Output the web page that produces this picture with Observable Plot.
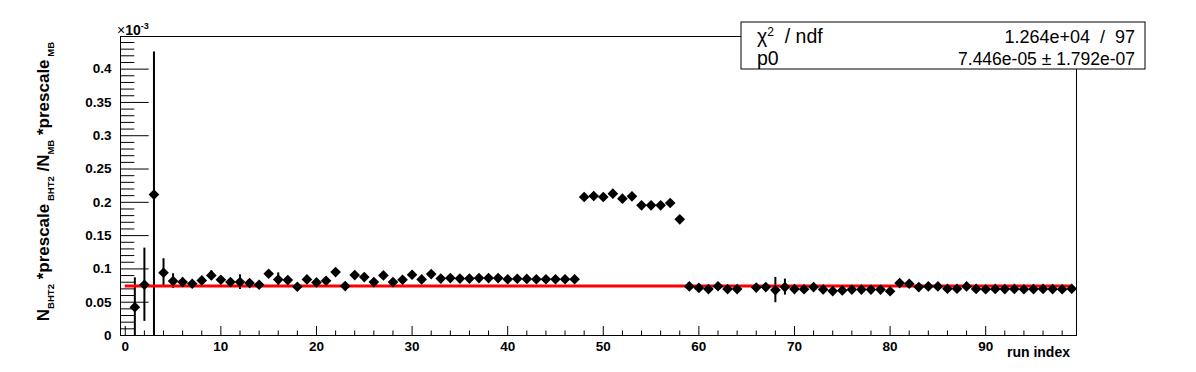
<!DOCTYPE html>
<html><head><meta charset="utf-8">
<script src="https://cdn.jsdelivr.net/npm/d3@7"></script>
<script src="https://cdn.jsdelivr.net/npm/@observablehq/plot@0.6"></script>
<style>body{margin:0;background:#fff} svg{display:block}</style>
</head><body><div id="chart"></div>
<script>
// run index (65 is empty)
const runIndex = [1,2,3,4,5,6,7,8,9,10,11,12,13,14,15,16,17,18,19,20,21,22,23,24,25,26,27,28,29,30,
  31,32,33,34,35,36,37,38,39,40,41,42,43,44,45,46,47,48,49,50,51,52,53,54,55,56,57,58,59,60,
  61,62,63,64,66,67,68,69,70,71,72,73,74,75,76,77,78,79,80,81,82,83,84,85,86,87,88,89,90,
  91,92,93,94,95,96,97,98,99];
// N_BHT2*prescale_BHT2 / N_MB*prescale_MB  (x 10^-3)
const ratio = [0.0426,0.0762,0.2116,0.0943,0.0817,0.0802,0.0777,0.0827,0.0902,0.0837,
  0.0802,0.0802,0.0787,0.0762,0.0927,0.0840,0.0832,0.0732,0.0842,0.0797,
  0.0822,0.0952,0.0742,0.0907,0.0877,0.0802,0.0902,0.0802,0.0837,0.0912,
  0.0842,0.0922,0.0855,0.0862,0.0855,0.0855,0.0862,0.0862,0.0862,0.0845,
  0.0852,0.0850,0.0845,0.0845,0.0845,0.0845,0.0845,0.2080,0.2095,0.2080,
  0.2130,0.2055,0.2090,0.1955,0.1955,0.1955,0.1990,0.1744,0.0737,0.0715,
  0.0697,0.0740,0.0697,0.0697,0.0720,0.0727,0.0682,0.0727,0.0697,0.0695,
  0.0727,0.0692,0.0667,0.0677,0.0690,0.0690,0.0690,0.0690,0.0665,0.0787,
  0.0777,0.0727,0.0737,0.0737,0.0702,0.0702,0.0737,0.0700,0.0695,0.0700,
  0.0697,0.0700,0.0695,0.0697,0.0700,0.0697,0.0695,0.0702];
const ratioErr = [0.0440,0.0550,0.2140,0.0210,0.0110,0.0060,0.0040,0.0040,0.0070,0.0040,
  0.0040,0.0110,0.0040,0.0040,0.0040,0.0100,0.0040,0.0040,0.0040,0.0040,
  0.0040,0.0040,0.0040,0.0040,0.0040,0.0040,0.0040,0.0040,0.0040,0.0040,
  0.0040,0.0040,0.0030,0.0030,0.0030,0.0030,0.0030,0.0030,0.0030,0.0030,
  0.0030,0.0030,0.0030,0.0030,0.0030,0.0030,0.0030,0.0040,0.0040,0.0040,
  0.0040,0.0040,0.0040,0.0040,0.0040,0.0040,0.0040,0.0040,0.0030,0.0030,
  0.0030,0.0030,0.0030,0.0030,0.0030,0.0030,0.0190,0.0120,0.0030,0.0030,
  0.0030,0.0030,0.0030,0.0030,0.0030,0.0030,0.0030,0.0030,0.0030,0.0030,
  0.0030,0.0030,0.0030,0.0030,0.0030,0.0030,0.0030,0.0030,0.0030,0.0030,
  0.0030,0.0030,0.0030,0.0030,0.0030,0.0030,0.0030,0.0030];
const xDomain = [-0.5, 99.5];
const yDomain = [0, 0.449];
const xMajorTicks = [0,10,20,30,40,50,60,70,80,90];
const xMinorTicks = [2,4,6,8,12,14,16,18,22,24,26,28,32,34,36,38,42,44,46,48,52,54,56,58,
  62,64,66,68,72,74,76,78,82,84,86,88,92,94,96,98];
const yMajorTicks = [0,0.05,0.1,0.15,0.2,0.25,0.3,0.35,0.4];
const yMinorTicks = [0.01,0.02,0.03,0.04,0.06,0.07,0.08,0.09,0.11,0.12,0.13,0.14,0.16,0.17,0.18,0.19,
  0.21,0.22,0.23,0.24,0.26,0.27,0.28,0.29,0.31,0.32,0.33,0.34,0.36,0.37,0.38,0.39,0.41,0.42,0.43,0.44];
const fitValue = 0.07446;
const fitRange = [0, 99];
const statsLabels = ["ndf", "p0"];
const statsValues = ["1.264e+04  /  97", "7.446e-05 \u00b1 1.792e-07"];

const points = runIndex.map((r, i) => ({run: r, v: ratio[i], e: ratioErr[i]}));
const xSpan = xDomain[1] - xDomain[0], ySpan = yDomain[1] - yDomain[0];
const F = "'Liberation Sans', Arial, Helvetica, sans-serif";

const chart = Plot.plot({
  width: 1196, height: 372,
  marginLeft: 120, marginRight: 120, marginTop: 36, marginBottom: 37,
  style: {fontFamily: F, background: "#fff"},
  x: {domain: xDomain},
  y: {domain: yDomain},
  marks: [
    // ticks (inside frame, ROOT style)
    Plot.ruleY(yMajorTicks, {y: d => d, x1: xDomain[0], x2: xDomain[0] + 0.03 * xSpan, stroke: "black"}),
    Plot.ruleY(yMinorTicks, {y: d => d, x1: xDomain[0], x2: xDomain[0] + 0.015 * xSpan, stroke: "black"}),
    Plot.ruleX(xMajorTicks, {x: d => d, y1: yDomain[0], y2: yDomain[0] + 0.03 * ySpan, stroke: "black"}),
    Plot.ruleX(xMinorTicks, {x: d => d, y1: yDomain[0], y2: yDomain[0] + 0.015 * ySpan, stroke: "black"}),
    Plot.axisY({ticks: yMajorTicks, tickSize: 0, tickPadding: 9, tickFormat: d => String(+d.toFixed(2)), label: null, fill: "black"}),
    Plot.axisX({ticks: xMajorTicks, tickSize: 0, tickPadding: 6, tickFormat: d => String(d), label: null, fill: "black"}),
    // error bars
    Plot.ruleX(points, {x: "run", y1: d => d.v - d.e, y2: d => d.v + d.e, stroke: "black", strokeWidth: 2, clip: true}),
    // fit
    Plot.ruleY([fitValue], {x1: fitRange[0], x2: fitRange[1], stroke: "#ff0000", strokeWidth: 3}),
    // markers
    Plot.dot(points, {x: "run", y: "v", symbol: "diamond2", r: 4.8, fill: "black", stroke: "none"}),
    Plot.frame({stroke: "black"})
  ]
});
document.getElementById("chart").appendChild(chart);

const svg = d3.select(chart);
// tick label fonts (ROOT bold Helvetica): only axis texts exist at this point
svg.selectAll("text").style("font-size", "13.5px").style("font-weight", "bold").style("font-family", F);

// x10^-3 exponent label
const ex = svg.append("text").attr("x", 117).attr("y", 35).attr("text-anchor", "start")
  .attr("font-family", F).attr("font-size", 14).attr("font-weight", "bold").attr("fill", "black");
ex.append("tspan").attr("font-weight", "normal").text("\u00d7");
ex.append("tspan").text("10");
ex.append("tspan").attr("font-size", 9).attr("dy", -6).text("-3");

// x title
svg.append("text").attr("x", 1070).attr("y", 357).attr("text-anchor", "end")
  .attr("font-family", F).attr("font-size", 14).attr("font-weight", "bold").attr("fill", "black").text("run index");

// y title
const yt = svg.append("text").attr("transform", "translate(49,42) rotate(-90)").attr("text-anchor", "end")
  .attr("font-family", F).attr("font-size", 17).attr("font-weight", "bold").attr("fill", "black")
  .style("white-space", "pre");
const sub = (t) => { yt.append("tspan").attr("font-size", 9.5).attr("dy", 5).text(t); };
const main = (t) => { yt.append("tspan").attr("font-size", 17).attr("dy", -5).text(t); };
yt.append("tspan").text("N");
sub("BHT2");
main(" *prescale");
sub(" BHT2");
main(" /N");
sub("MB");
main(" *prescale");
sub(" MB");

// stats box
const bx = 741, by = 22, bw = 404, bh = 47;
svg.append("rect").attr("x", bx).attr("y", by).attr("width", bw).attr("height", bh)
  .attr("fill", "white").attr("stroke", "black").attr("stroke-width", 1);
const rowY = [43, 65];
const t0 = svg.append("text").attr("x", 757).attr("y", rowY[0]).attr("text-anchor", "start")
  .attr("font-family", F).attr("font-size", 19.5).attr("font-weight", "normal").attr("fill", "black").style("white-space", "pre");
t0.append("tspan").text("\u03c7");
t0.append("tspan").attr("font-size", 12).attr("dy", -7).text("2");
t0.append("tspan").attr("dy", 7).text("  / " + statsLabels[0]);
svg.append("text").attr("x", 757).attr("y", rowY[1]).attr("text-anchor", "start")
  .attr("font-family", F).attr("font-size", 19.5).attr("font-weight", "normal").attr("fill", "black").text(statsLabels[1]);
statsValues.forEach((s, i) => {
  svg.append("text").attr("x", 1135).attr("y", rowY[i]).attr("text-anchor", "end").style("white-space", "pre")
    .attr("font-family", F).attr("font-size", i === 0 ? 18 : 17.5).attr("font-weight", "normal").attr("fill", "black").text(s);
});
</script>
</body></html>
